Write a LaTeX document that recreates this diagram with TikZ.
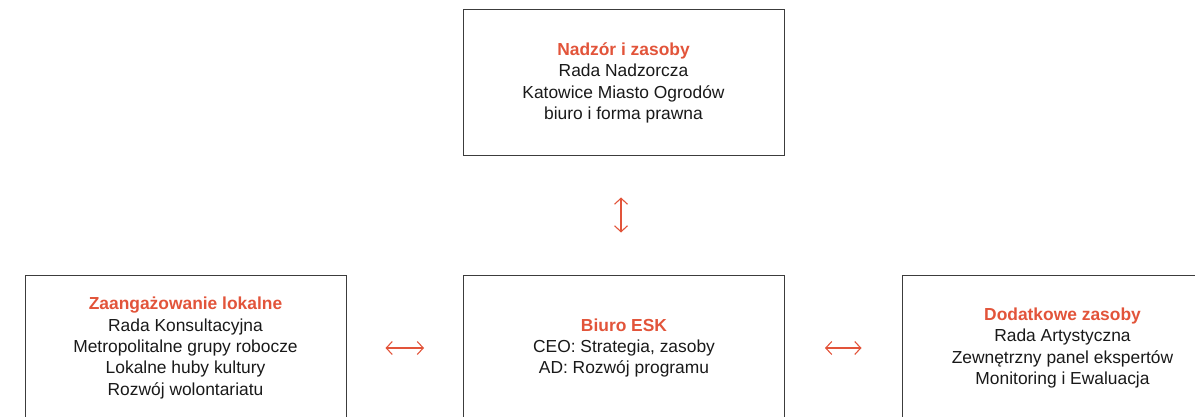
\documentclass[tikz,border=0pt]{standalone}
\usepackage{fontspec}
\setmainfont{Liberation Sans}
\usepackage{xcolor}
\usepackage{tikz}
\usetikzlibrary{arrows.meta,positioning}
\definecolor{eskred}{RGB}{226,84,58}
\definecolor{boxgray}{RGB}{60,60,60}
\definecolor{textdark}{RGB}{25,25,25}

\begin{document}
\begin{tikzpicture}[
        x=1pt, y=-1pt,
        box/.style={rectangle, draw=boxgray, line width=1pt, minimum width=321pt, minimum height=146pt, align=center, text=textdark, font=\fontsize{17.4}{21.3}\selectfont, inner sep=0pt},
        link/.style={{Straight Barb[length=6pt,width=13pt]}-{Straight Barb[length=6pt,width=13pt]}, line width=1.1pt, eskred}
    ]
        \useasboundingbox (0,0) rectangle (1195,417);

        % Top box
        \node[box] (nadzor) at (623.5,83) {\textcolor{eskred}{\bfseries Nadzór i zasoby}\\Rada Nadzorcza\\Katowice Miasto Ogrodów\\biuro i forma prawna};

        % Bottom row
        \node[box] (lokalne) at (185.5,348) {\textcolor{eskred}{\bfseries Zaangażowanie lokalne}\\Rada Konsultacyjna\\Metropolitalne grupy robocze\\Lokalne huby kultury\\Rozwój wolontariatu};
        \node[box] (biuro) at (624,348) {\textcolor{eskred}{\bfseries Biuro ESK}\\CEO: Strategia, zasoby\\AD: Rozwój programu};
        \node[box] (dodatkowe) at (1062.5,348) {\textcolor{eskred}{\bfseries Dodatkowe zasoby}\\Rada Artystyczna\\Zewnętrzny panel ekspertów\\Monitoring i Ewaluacja};

        % Arrows
        \draw[link, shorten <=41pt, shorten >=42pt] (nadzor.south -| 621,0) -- (biuro.north -| 621,0);
        \draw[link, shorten <=39pt, shorten >=39pt] (lokalne.east) -- (biuro.west);
        \draw[link, shorten <=40pt, shorten >=40pt] (biuro.east) -- (dodatkowe.west);

    \end{tikzpicture}
\end{document}
